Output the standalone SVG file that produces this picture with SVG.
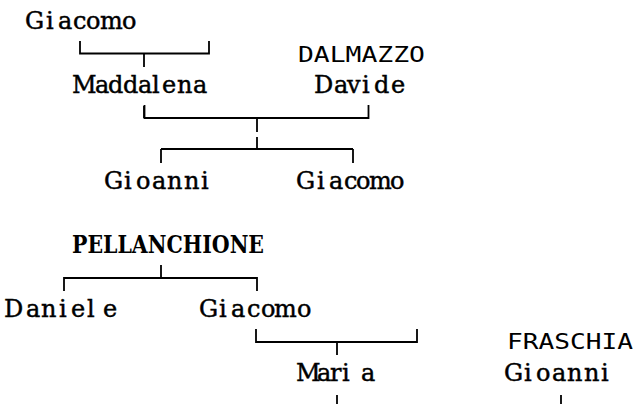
<svg xmlns="http://www.w3.org/2000/svg" width="636" height="404" viewBox="0 0 636 404">
<style>
.n{font-family:"DejaVu Serif",serif;font-size:24px;fill:#000;stroke:#000;stroke-width:0.45}
.b{font-family:"DejaVu Serif",serif;font-size:24px;font-weight:bold;fill:#000}
.s{font-family:"DejaVu Sans Mono",monospace;font-size:21px;fill:#000}
.c{fill:none;stroke:#000;stroke-width:1.8;stroke-linecap:butt}
</style>
<rect width="636" height="404" fill="#fff"/>
<g id="connectors">
<path class="c" d="M80,41V53.5H209V41M144,53.5V67"/>
<path class="c" d="M144,106V118"/>
<path class="c" d="M144.5,105V118H368.5V105M257,118V132M257,137V149"/>
<path class="c" d="M161,149H353M161,149V163M353,149V163"/>
<path class="c" d="M161,265V278M64,291V278H257V291"/>
<path class="c" d="M256,329V342H417V329M337,342V355"/>
<path class="c" d="M337,395V404"/>
<path class="c" d="M561,395V404"/>
</g>
<g id="giacomo-top"><text class="n" x="25 46 58 73 86 100 122" y="29">Giacomo</text></g>
<g id="dalmazzo"><text class="s" x="298" y="61.5" textLength="127" lengthAdjust="spacingAndGlyphs">DALMAZZO</text></g>
<g id="maddalena"><text class="n" x="72 95 108 123 138 152 162 177 193" y="93">Maddalena</text></g>
<g id="davide"><text class="n" x="314 334 347 362 374 391" y="93">Davide</text></g>
<g id="gioanni-1"><text class="n" x="104 124 136 152 167 184 201" y="189">Gioanni</text></g>
<g id="giacomo-1"><text class="n" x="296 317 329 344 356 369 390" y="189">Giacomo</text></g>
<g id="pellanchione"><text class="b" x="72" y="253" textLength="192" lengthAdjust="spacingAndGlyphs">PELLANCHIONE</text></g>
<g id="daniele"><text class="n" x="4 26 41 59 71 87 103" y="317">Daniele</text></g>
<g id="giacomo-2"><text class="n" x="199 219 231 247 261 274 297" y="317">Giacomo</text></g>
<g id="fraschia"><text class="s" x="507" y="348.5" textLength="126" lengthAdjust="spacingAndGlyphs">FRASCHIA</text></g>
<g id="maria"><text class="n" x="296 317 330 342 361" y="381">Maria</text></g>
<g id="gioanni-2"><text class="n" x="504 524 536 552 567 584 601" y="381">Gioanni</text></g>
</svg>
